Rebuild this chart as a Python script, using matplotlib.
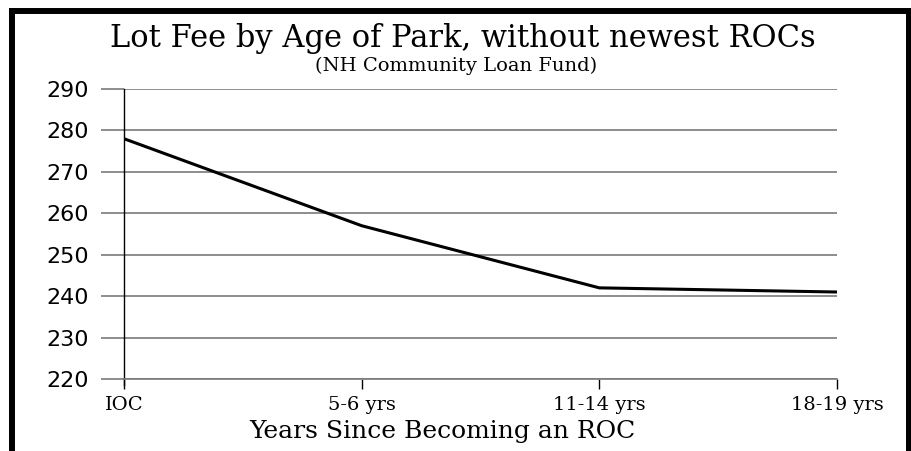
# Lot fee by age of park

import numpy as np
import matplotlib.pyplot as plt
from matplotlib.lines import Line2D

# Data
categories = ['IOC', '5-6 yrs', '11-14 yrs', '18-19 yrs']
lot_fee = [278, 257, 242, 241]
y_ticks = [220, 230, 240, 250, 260, 270, 280, 290]

fig = plt.figure(figsize=(9.11, 4.51), dpi=100)
ax = fig.add_axes([0.1361, 0.1596, 0.7827, 0.6431])

x = np.arange(len(categories))
ax.plot(x, lot_fee, color='black', linewidth=2.2, solid_capstyle='butt', zorder=3)

ax.set_xlim(0, len(categories) - 1)
ax.set_ylim(220, 290)
ax.set_yticks(y_ticks)
ax.set_xticks(x)
ax.set_xticklabels(categories, family='DejaVu Serif', fontsize=14)
for lab in ax.get_yticklabels():
    lab.set_family('DejaVu Sans')
    lab.set_fontsize(16)

# gridlines run a bit past the y axis like in the original
ax.yaxis.grid(True, color='#7a7a7a', linewidth=1.2)
ax.tick_params(axis='y', length=16.5, width=1.2, color='#7a7a7a', pad=9)
ax.tick_params(axis='x', length=7, width=1, color='black', pad=5, direction='out')

for side in ['top', 'right']:
    ax.spines[side].set_visible(False)
ax.spines['bottom'].set_color('#7a7a7a')
ax.spines['bottom'].set_linewidth(1.2)
ax.spines['left'].set_color('black')
ax.spines['left'].set_linewidth(1)
ax.spines['left'].set_bounds(218.5, 290)

ax.set_xlabel('Years Since Becoming an ROC', family='DejaVu Serif', fontsize=18)
ax.xaxis.set_label_coords(0.447, -0.182)
ax.xaxis.label.set_va('center')

fig.text(463 / 911, 1 - 38 / 451, 'Lot Fee by Age of Park, without newest ROCs',
         ha='center', va='center', family='DejaVu Serif', fontsize=22)
fig.text(456 / 911, 1 - 66 / 451, '(NH Community Loan Fund)',
         ha='center', va='center', family='DejaVu Serif', fontsize=14)

# black frame on top, left and right
fig.add_artist(Line2D([11.5 / 911, 11.5 / 911], [0, 1 - 8 / 451], transform=fig.transFigure,
                      color='black', linewidth=4.3, solid_capstyle='butt'))
fig.add_artist(Line2D([908.5 / 911, 908.5 / 911], [0, 1 - 8 / 451], transform=fig.transFigure,
                      color='black', linewidth=4.3, solid_capstyle='butt'))
fig.add_artist(Line2D([9 / 911, 1], [1 - 10.5 / 451, 1 - 10.5 / 451], transform=fig.transFigure,
                      color='black', linewidth=4.3, solid_capstyle='butt'))

fig.savefig('out.png', dpi=100)
